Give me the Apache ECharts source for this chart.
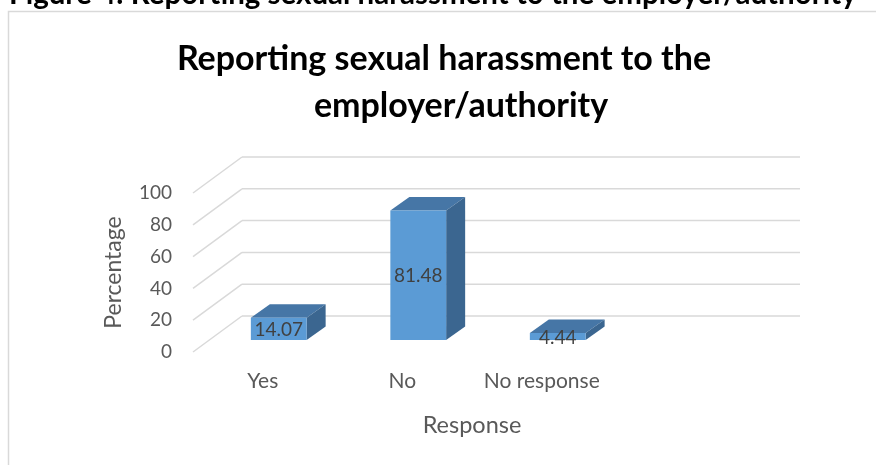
<!DOCTYPE html>
<html>
<head>
<meta charset="utf-8">
<script src="https://cdn.jsdelivr.net/npm/echarts@6/dist/echarts.min.js"></script>
<style>
  html, body { margin: 0; padding: 0; background: #fff; }
  #chart { width: 876px; height: 465px; }
</style>
</head>
<body>
<div id="chart"></div>
<script>
var categories = ['Yes', 'No', 'No response', ''];
var values = [14.07, 81.48, 4.44];
var yTicks = [0, 20, 40, 60, 80, 100];

// 3D look: depth offsets in pixels
var floorDepth = [49, -36];
var barFront = [16, -12];
var barDepth = [19, -13.5];

var font = 'Lato, "Noto Sans", sans-serif';

var myChart = echarts.init(document.getElementById('chart'));

function renderWalls(params, api) {
    var p = api.coord([0, api.value(1)]);
    var cs = params.coordSys;
    var bx = cs.x + floorDepth[0], by = p[1] + floorDepth[1];
    var st = { stroke: '#d9d9d9', lineWidth: 1.5 };
    return {
        type: 'group',
        children: [
            { type: 'line', shape: { x1: cs.x, y1: p[1], x2: bx, y2: by }, style: st },
            { type: 'line', shape: { x1: bx, y1: by, x2: bx + cs.width, y2: by }, style: st }
        ]
    };
}

function renderBar(params, api) {
    var i = api.value(0), v = api.value(1);
    var top = api.coord([i, v]);
    var base = api.coord([i, 0]);
    var half = api.size([1, 0])[0] * 0.2;
    var cx = top[0] + barFront[0];
    var x0 = cx - half, x1 = cx + half;
    var yt = top[1] + barFront[1], yb = base[1] + barFront[1];
    var dx = barDepth[0], dy = barDepth[1];
    return {
        type: 'group',
        children: [
            { type: 'polygon', shape: { points: [[x0, yt], [x0 + dx, yt + dy], [x1 + dx, yt + dy], [x1, yt]] },
              style: { fill: '#4676a6' } },
            { type: 'polygon', shape: { points: [[x1, yt], [x1 + dx, yt + dy], [x1 + dx, yb + dy], [x1, yb]] },
              style: { fill: '#3b6690' } },
            { type: 'polygon', shape: { points: [[x0, yt], [x1, yt], [x1, yb], [x0, yb]] },
              style: { fill: '#5b9bd5' } },
            { type: 'text', style: { x: cx, y: (yt + yb) / 2 + 1, text: String(v), fill: '#404040',
              fontSize: 19, fontFamily: font, align: 'center', verticalAlign: 'middle' } }
        ]
    };
}

var option = {
    animation: false,
    title: [
        { text: 'Reporting sexual harassment to the', left: 439, top: 37, textAlign: 'center',
          textStyle: { fontFamily: font, fontWeight: 'bold', fontSize: 34, color: '#000' } },
        { text: 'employer/authority', left: 456, top: 84, textAlign: 'center',
          textStyle: { fontFamily: font, fontWeight: 'bold', fontSize: 34, color: '#000' } }
    ],
    graphic: [
        { type: 'rect', shape: { x: 8.5, y: 11.5, width: 900, height: 500 },
          style: { fill: 'none', stroke: '#d9d9d9', lineWidth: 1.5 } },
        { type: 'text', x: 9, y: 9, style: { text: 'Figure 4: Reporting sexual harassment to the employer/authority',
          fill: '#000', fontSize: 29.5, fontWeight: 'bold', fontFamily: font, verticalAlign: 'bottom' } }
    ],
    grid: { left: 193, right: 125, top: 193, bottom: 113 },
    xAxis: {
        type: 'category',
        data: categories,
        axisLine: { show: false },
        axisTick: { show: false },
        axisLabel: { interval: 0, margin: 19, fontSize: 21, fontFamily: font, color: '#595959' },
        name: 'Response',
        nameLocation: 'middle',
        nameGap: 61,
        nameTextStyle: { fontSize: 23.5, fontFamily: font, color: '#595959' }
    },
    yAxis: {
        type: 'value',
        min: 0,
        max: 100,
        interval: 20,
        splitLine: { show: false },
        axisLine: { show: false },
        axisTick: { show: false },
        axisLabel: { margin: 21, fontSize: 19, fontFamily: font, color: '#595959' },
        name: 'Percentage',
        nameLocation: 'middle',
        nameGap: 68,
        nameRotate: 90,
        nameTextStyle: { fontSize: 23, fontFamily: font, color: '#595959' }
    },
    series: [
        {
            type: 'custom',
            silent: true,
            z: 1,
            renderItem: renderWalls,
            data: yTicks.map(function (t) { return [0, t]; })
        },
        {
            type: 'custom',
            silent: true,
            z: 2,
            renderItem: renderBar,
            data: values.map(function (v, i) { return [i, v]; })
        }
    ]
};

myChart.setOption(option);
window.onresize = function () {
    myChart.resize();
};
</script>
</body>
</html>
